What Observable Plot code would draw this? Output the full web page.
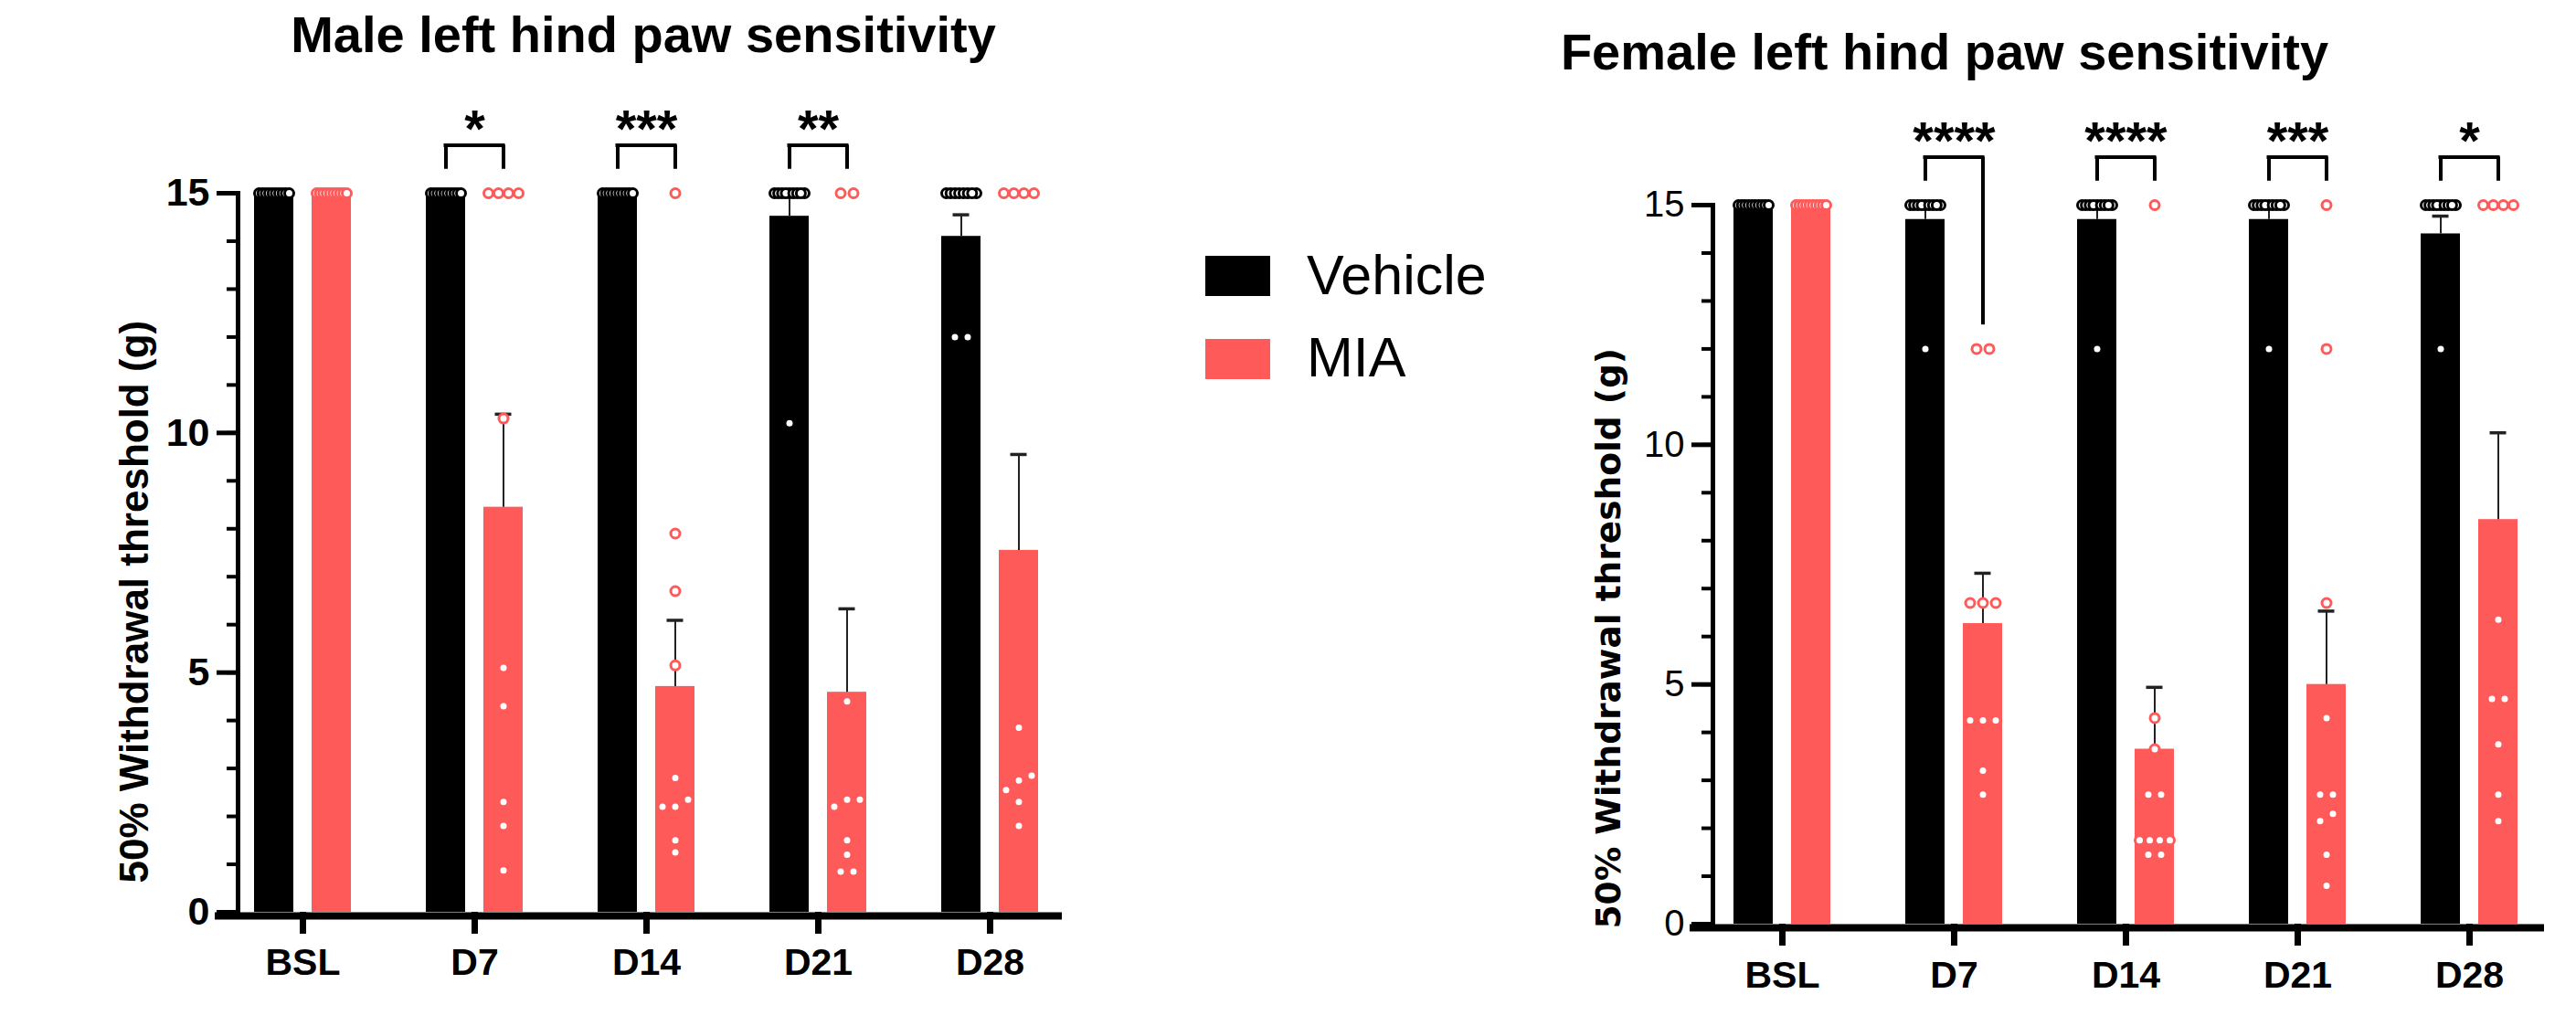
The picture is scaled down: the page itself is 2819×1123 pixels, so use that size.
<!DOCTYPE html>
<html>
<head>
<meta charset="utf-8">
<script src="https://cdn.jsdelivr.net/npm/d3@7"></script>
<script src="https://cdn.jsdelivr.net/npm/@observablehq/plot@0.6"></script>
<style>
html, body { margin: 0; padding: 0; background: #fff; }
#root { position: relative; width: 2819px; height: 1123px; overflow: hidden; background: #fff;
  font-family: "Liberation Sans", Arial, Helvetica, sans-serif; color: #000; }
.panel { position: absolute; top: 0; }
.title { position: absolute; font-weight: bold; font-size: 56px; line-height: 56px; white-space: nowrap; transform: translateX(-50%); }
.swatch { position: absolute; width: 71px; height: 44px; }
.legtext { position: absolute; font-size: 61px; line-height: 61px; white-space: nowrap; }
</style>
</head>
<body>
<div id="root"></div>
<script>
// ---------------- DATA ----------------
const days = ["BSL", "D7", "D14", "D21", "D28"];
const groups = ["Vehicle", "MIA"];
const groupColors = ["#000000", "#FF5A5A"];

const maleTitle = "Male left hind paw sensitivity";
const femaleTitle = "Female left hind paw sensitivity";
const yLabel = "50% Withdrawal threshold (g)";
const yTicks = [0, 5, 10, 15];

// Male: bar means, SEM and individual animals
const maleVehicleMean = [15, 15, 15, 14.52, 14.1];
const maleVehicleSem  = [0, 0, 0, 0.46, 0.45];
const maleMiaMean     = [15, 8.45, 4.71, 4.59, 7.55];
const maleMiaSem      = [0, 1.94, 1.38, 1.74, 2.0];
const maleVehicleDots = [
  [15, 15, 15, 15, 15, 15, 15, 15, 15, 15],
  [15, 15, 15, 15, 15, 15, 15, 15, 15, 15],
  [15, 15, 15, 15, 15, 15, 15, 15, 15, 15],
  [15, 15, 15, 15, 15, 15, 15, 15, 15, 10.2],
  [15, 15, 15, 15, 15, 15, 15, 15, 12, 12]
];
const maleMiaDots = [
  [15, 15, 15, 15, 15, 15, 15, 15, 15, 15],
  [15, 15, 15, 15, 10.3, 5.1, 4.3, 2.3, 1.8, 0.87],
  [15, 7.9, 6.7, 5.15, 2.8, 2.35, 2.2, 2.2, 1.5, 1.25],
  [15, 15, 4.4, 2.35, 2.35, 2.2, 1.5, 1.2, 0.85, 0.85],
  [15, 15, 15, 15, 3.85, 2.85, 2.75, 2.55, 2.3, 1.8]
];
const maleSig = ["", "*", "***", "**", ""];

// Female
const femaleVehicleMean = [15, 14.7, 14.7, 14.7, 14.4];
const femaleVehicleSem  = [0, 0.3, 0.3, 0.3, 0.37];
const femaleMiaMean     = [15, 6.27, 3.65, 5.0, 8.44];
const femaleMiaSem      = [0, 1.05, 1.29, 1.53, 1.81];
const femaleVehicleDots = [
  [15, 15, 15, 15, 15, 15, 15, 15, 15, 15],
  [15, 15, 15, 15, 15, 15, 15, 15, 15, 12],
  [15, 15, 15, 15, 15, 15, 15, 15, 15, 12],
  [15, 15, 15, 15, 15, 15, 15, 15, 15, 12],
  [15, 15, 15, 15, 15, 15, 15, 15, 15, 12]
];
const femaleMiaDots = [
  [15, 15, 15, 15, 15, 15, 15, 15, 15, 15],
  [12, 12, 6.7, 6.7, 6.7, 4.25, 4.25, 4.25, 3.2, 2.7],
  [15, 4.3, 3.65, 2.7, 2.7, 1.75, 1.75, 1.75, 1.75, 1.45, 1.45],
  [15, 12, 6.7, 4.3, 2.7, 2.7, 2.3, 2.15, 1.45, 0.8],
  [15, 15, 15, 15, 6.35, 4.7, 4.7, 3.75, 2.7, 2.15]
];
const femaleSig = ["", "****", "****", "***", "*"];

// ---------------- LAYOUT / STYLE ----------------
const FONT = "Liberation Sans, Arial, Helvetica, sans-serif";
const BAND = 188;          // px per day band
const GROUP_OFF = 31.5;    // px offset of each group's bar center from band center
const BAR_W = 43;
const CAP_W = 18;
const BRACKET = 16;        // bracket level (y units)

function dotMarks(dotSets, offset, color) {
  const pts = [];
  days.forEach((d, i) => {
    const vals = dotSets[i].slice().sort((a, b) => a - b);
    const clusters = [];
    for (const v of vals) {
      const c = clusters[clusters.length - 1];
      if (c && v - c[c.length - 1] < 0.22) c.push(v); else clusters.push([v]);
    }
    for (const c of clusters) {
      const m = c.length;
      const sp = m > 1 ? Math.min(14, 33 / (m - 1)) : 0;
      c.forEach((v, k) => pts.push({day: d, value: v, dx: Math.round((offset + (k - (m - 1) / 2) * sp) * 10) / 10}));
    }
  });
  return Array.from(d3.group(pts, p => p.dx), ([dx, arr]) =>
    Plot.dot(arr, {x: "day", y: "value", dx, r: 5, fill: "white", stroke: color, strokeWidth: 3}));
}

function buildPlot(cfg) {
  const rows = (means, sems, dots) => days.map((d, i) => ({day: d, mean: means[i], sem: sems[i], top: means[i] + sems[i], max: d3.max(dots[i])}));
  const veh = rows(cfg.vehMean, cfg.vehSem, cfg.vehDots);
  const mia = rows(cfg.miaMean, cfg.miaSem, cfg.miaDots);
  const sigRows = days.map((d, i) => ({day: d, sig: cfg.sig[i], vehLeg: veh[i].max + 0.5, miaLeg: mia[i].max + 0.5})).filter(r => r.sig);

  const half = BAND / 2;
  const vehL = half - GROUP_OFF - BAR_W / 2, vehR = BAND - (half - GROUP_OFF + BAR_W / 2);
  const miaL = half + GROUP_OFF - BAR_W / 2, miaR = BAND - (half + GROUP_OFF + BAR_W / 2);
  const capVehL = half - GROUP_OFF - CAP_W / 2, capVehR = BAND - (half - GROUP_OFF + CAP_W / 2);
  const capMiaL = half + GROUP_OFF - CAP_W / 2, capMiaR = BAND - (half + GROUP_OFF + CAP_W / 2);
  const brL = half - GROUP_OFF;

  const errV = veh.filter(r => r.sem > 0), errM = mia.filter(r => r.sem > 0);

  return Plot.plot({
    width: cfg.width,
    height: 1123,
    marginLeft: cfg.marginLeft,
    marginRight: cfg.marginRight,
    marginTop: cfg.marginTop,
    marginBottom: cfg.marginBottom,
    style: {fontFamily: FONT, background: "transparent", overflow: "visible", maxWidth: "none"},
    x: {type: "band", domain: days, range: cfg.xRange, padding: 0},
    y: {domain: [0, 15]},
    marks: [
      Plot.barY(veh, {x: "day", y: "mean", fill: groupColors[0], insetLeft: vehL, insetRight: vehR}),
      Plot.barY(mia, {x: "day", y: "mean", fill: groupColors[1], insetLeft: miaL, insetRight: miaR}),
      Plot.ruleX(errV, {x: "day", y1: "mean", y2: "top", dx: -GROUP_OFF, stroke: "#222", strokeWidth: 2}),
      Plot.ruleX(errM, {x: "day", y1: "mean", y2: "top", dx: GROUP_OFF, stroke: "#222", strokeWidth: 2}),
      Plot.tickY(errV, {x: "day", y: "top", insetLeft: capVehL, insetRight: capVehR, stroke: "#222", strokeWidth: 3.5}),
      Plot.tickY(errM, {x: "day", y: "top", insetLeft: capMiaL, insetRight: capMiaR, stroke: "#222", strokeWidth: 3.5}),
      ...dotMarks(cfg.vehDots, -GROUP_OFF, groupColors[0]),
      ...dotMarks(cfg.miaDots, GROUP_OFF, groupColors[1]),
      // significance brackets
      Plot.tickY(sigRows, {x: "day", y: () => BRACKET, insetLeft: brL, insetRight: brL, stroke: "#000", strokeWidth: 4, strokeLinecap: "square"}),
      Plot.ruleX(sigRows, {x: "day", y1: () => BRACKET, y2: "vehLeg", dx: -GROUP_OFF, stroke: "#000", strokeWidth: 4}),
      Plot.ruleX(sigRows, {x: "day", y1: () => BRACKET, y2: "miaLeg", dx: GROUP_OFF, stroke: "#000", strokeWidth: 4}),
      Plot.text(sigRows, {x: "day", y: () => BRACKET, text: "sig", dy: -39, lineAnchor: "top", fontSize: 58, fontWeight: "bold", fill: "#000"}),
      // axes
      Plot.axisY({ticks: d3.range(0, 16), tickSize: 12, strokeWidth: 4, text: null, tickFormat: () => "", label: null}),
      Plot.axisY({ticks: yTicks, tickSize: 23, strokeWidth: 5, tickPadding: 8, fontSize: cfg.yTickSize, fontWeight: cfg.yTickWeight, label: null}),
      Plot.frame({anchor: "left", strokeWidth: 5, stroke: "#000"}),
      Plot.axisX({tickSize: 24, strokeWidth: 7, tickPadding: cfg.xTickPadding, fontSize: 41, fontWeight: "bold", label: null}),
      Plot.ruleY([0], {strokeWidth: 8, dy: 4, insetLeft: -25, stroke: "#000"}),
      Plot.text([yLabel], {text: d => d, frameAnchor: "bottom-left", rotate: -90, textAnchor: "start", lineAnchor: "middle",
        dx: cfg.yLabelDx, dy: cfg.yLabelDy, fontSize: cfg.yLabelSize, fontWeight: "bold", fontFamily: cfg.yLabelFont,
        letterSpacing: cfg.yLabelSpacing, fill: "#000"})
    ]
  });
}

const root = document.getElementById("root");

function place(el, left) {
  const wrap = document.createElement("div");
  wrap.className = "panel";
  wrap.style.left = left + "px";
  wrap.appendChild(el);
  root.appendChild(wrap);
}

const malePlot = buildPlot({
  vehMean: maleVehicleMean, vehSem: maleVehicleSem, miaMean: maleMiaMean, miaSem: maleMiaSem,
  vehDots: maleVehicleDots, miaDots: maleMiaDots, sig: maleSig,
  width: 1200, marginLeft: 260, marginRight: 38, marginTop: 211, marginBottom: 125,
  xRange: [237, 1177], yTickSize: 43, yTickWeight: "bold", xTickPadding: 15,
  yLabelDx: -113, yLabelDy: -32, yLabelSize: 44, yLabelFont: FONT, yLabelSpacing: 0
});
place(malePlot, 0);

const femalePlot = buildPlot({
  vehMean: femaleVehicleMean, vehSem: femaleVehicleSem, miaMean: femaleMiaMean, miaSem: femaleMiaSem,
  vehDots: femaleVehicleDots, miaDots: femaleMiaDots, sig: femaleSig,
  width: 1199, marginLeft: 254, marginRight: 35, marginTop: 224, marginBottom: 112,
  xRange: [236, 1176], yTickSize: 40, yTickWeight: "normal", xTickPadding: 16,
  yLabelDx: -114, yLabelDy: 5, yLabelSize: 37.5, yLabelFont: "DejaVu Sans, Verdana, sans-serif", yLabelSpacing: 0.5
});
place(femalePlot, 1620);

// Titles
function addTitle(text, cx, baseline) {
  const t = document.createElement("div");
  t.className = "title";
  t.textContent = text;
  t.style.left = cx + "px";
  t.style.top = (baseline - 0.8465 * 56) + "px";
  root.appendChild(t);
}
addTitle(maleTitle, 704, 57);
addTitle(femaleTitle, 2128, 76);

// Legend
groups.forEach((g, i) => {
  const sw = document.createElement("div");
  sw.className = "swatch";
  sw.style.left = "1319px";
  sw.style.top = (280 + i * 91) + "px";
  sw.style.background = groupColors[i];
  root.appendChild(sw);
  const tx = document.createElement("div");
  tx.className = "legtext";
  tx.textContent = g;
  tx.style.left = "1430px";
  tx.style.top = (323 + i * 90 - 0.8465 * 61) + "px";
  root.appendChild(tx);
});
</script>
</body>
</html>
